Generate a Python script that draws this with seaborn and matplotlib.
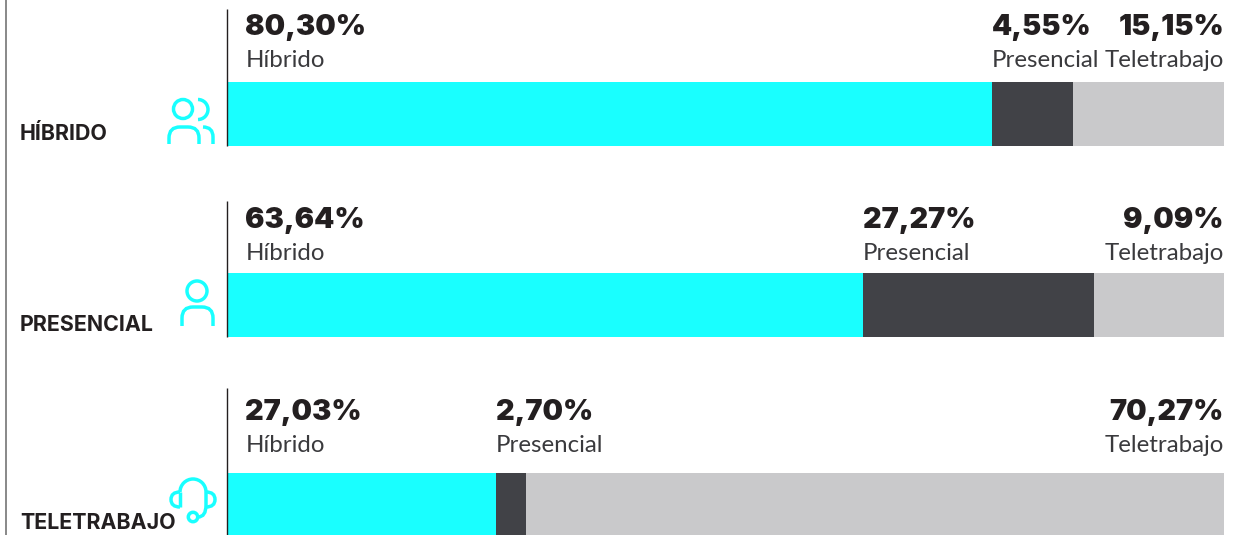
import matplotlib
matplotlib.use('Agg')
import matplotlib.pyplot as plt
import matplotlib.patches as patches
from matplotlib.path import Path
import pandas as pd
import seaborn as sns

# Filas y categorías
filas = ['HÍBRIDO', 'PRESENCIAL', 'TELETRABAJO']
categorias = ['Híbrido', 'Presencial', 'Teletrabajo']

# Ancho de cada tramo tal como se ve en la imagen (la fila 1 y 2 no cuadran con su etiqueta)
hibrido = [76.7, 63.8, 27.0]
presencial = [8.2, 23.2, 3.0]
teletrabajo = [15.1, 13.0, 70.0]

# Etiquetas tal como aparecen
etiq_hibrido = ['80,30%', '63,64%', '27,03%']
etiq_presencial = ['4,55%', '27,27%', '2,70%']
etiq_teletrabajo = ['15,15%', '9,09%', '70,27%']

colores = {'Híbrido': '#19FFFF', 'Presencial': '#414247', 'Teletrabajo': '#C9C9CB'}
cian = '#19FFFF'
negro = '#231F20'

# Posiciones en píxeles: tope de la regla, tope y base de barra, base de textos
tope_regla = [9, 201, 388]
tope_barra = [82, 273, 473]
base_barra = [146, 337, 535]
base_valor = [35, 228, 420]
base_texto = [67, 260, 452]
base_fila = [140, 331, 529]
X0, X1 = 227, 1224
ANCHO, ALTO = 1247, 535

sns.set_theme(style='white')
fig = plt.figure(figsize=(ANCHO / 100, ALTO / 100), dpi=100)

# Capa en píxeles para textos, reglas e iconos
capa = fig.add_axes([0, 0, 1, 1], zorder=5)
capa.set_xlim(0, ANCHO)
capa.set_ylim(ALTO, 0)
capa.axis('off')
capa.patch.set_alpha(0)

FUENTE_VALOR = dict(family='Inter', fontweight='black', fontsize=20.8, color=negro)
FUENTE_TEXTO = dict(family='Lato', fontweight='normal', fontsize=17.3, color='#3A3A3D')
FUENTE_FILA = dict(family='Inter', fontweight='bold', fontsize=15.4, color=negro)


def a_pixel(valor):
    return X0 + (X1 - X0) * valor / 100


for i, fila in enumerate(filas):
    # Barra apilada: se dibuja el acumulado de mayor a menor
    acumulado = [hibrido[i], hibrido[i] + presencial[i], hibrido[i] + presencial[i] + teletrabajo[i]]
    df = pd.DataFrame({'categoria': categorias, 'acumulado': acumulado, 'fila': fila})
    ax = fig.add_axes([X0 / ANCHO, 1 - base_barra[i] / ALTO,
                       (X1 - X0) / ANCHO, (base_barra[i] - tope_barra[i]) / ALTO])
    sns.barplot(data=df, x='acumulado', y='fila', hue='categoria', hue_order=categorias[::-1],
                palette=colores, dodge=False, width=1, legend=False, saturation=1, linewidth=0, ax=ax)
    ax.set_xlim(0, 100)
    ax.set_ylim(0.5, -0.5)
    ax.axis('off')

    capa.plot([226.5, 226.5], [tope_regla[i], base_barra[i]], color=negro, lw=1.0, solid_capstyle='butt')

    # Textos
    capa.text(245.5, base_valor[i], etiq_hibrido[i], ha='left', va='baseline', **FUENTE_VALOR)
    capa.text(245.5, base_texto[i], categorias[0], ha='left', va='baseline', **FUENTE_TEXTO)
    x_pres = a_pixel(hibrido[i])
    capa.text(x_pres, base_valor[i], etiq_presencial[i], ha='left', va='baseline', **FUENTE_VALOR)
    capa.text(x_pres, base_texto[i], categorias[1], ha='left', va='baseline', **FUENTE_TEXTO)
    capa.text(X1, base_valor[i], etiq_teletrabajo[i], ha='right', va='baseline', **FUENTE_VALOR)
    capa.text(X1, base_texto[i], categorias[2], ha='right', va='baseline', **FUENTE_TEXTO)
    capa.text(20, base_fila[i], fila, ha='left', va='baseline', **FUENTE_FILA)

# Línea gris a la izquierda
capa.plot([6, 6], [0, ALTO], color='#7F7F7F', lw=1.3, solid_capstyle='butt')

LW = 2.5


def circulo(x, y, r):
    capa.add_patch(patches.Circle((x, y), r, fill=False, ec=cian, lw=LW))


def arco(x, y, r, ini, fin):
    capa.add_patch(patches.Arc((x, y), 2 * r, 2 * r, theta1=ini, theta2=fin, ec=cian, lw=LW))


def trazo(puntos, codigos):
    capa.add_patch(patches.PathPatch(Path(puntos, codigos), fill=False, ec=cian, lw=LW, capstyle='butt'))


def arco_cuerpo(x0, x1, tope, base):
    # Hombros: recto abajo, curva arriba
    r = 11
    puntos = [(x0, base), (x0, tope + r), (x0, tope), (x0 + r, tope), (x1 - r, tope),
              (x1, tope), (x1, tope + r), (x1, base)]
    c = [Path.MOVETO, Path.LINETO, Path.CURVE3, Path.CURVE3, Path.LINETO, Path.CURVE3, Path.CURVE3, Path.LINETO]
    trazo(puntos, c)


# Icono híbrido
circulo(183, 109, 9.5)
arco(198, 109.5, 10, -90, 90)
arco_cuerpo(169, 199, 127, 144)
trazo([(203, 127), (213, 127), (213, 137), (213, 144)],
      [Path.MOVETO, Path.CURVE3, Path.CURVE3, Path.LINETO])

# Icono presencial
circulo(197, 291, 10)
arco_cuerpo(182, 213, 307, 326)

# Icono teletrabajo
arco(193, 492, 13, 180, 360)
trazo([(180, 492), (180, 507)], [Path.MOVETO, Path.LINETO])
trazo([(206, 492), (206, 505), (206, 517), (198, 517)],
      [Path.MOVETO, Path.LINETO, Path.CURVE3, Path.CURVE3])
trazo([(180, 492), (171, 492), (171, 499.5), (171, 507), (180, 507)],
      [Path.MOVETO, Path.CURVE3, Path.CURVE3, Path.CURVE3, Path.CURVE3])
trazo([(206, 492), (215, 492), (215, 499.5), (215, 507), (206, 507)],
      [Path.MOVETO, Path.CURVE3, Path.CURVE3, Path.CURVE3, Path.CURVE3])
circulo(193, 517, 4.7)

fig.savefig('out.png', dpi=100)
